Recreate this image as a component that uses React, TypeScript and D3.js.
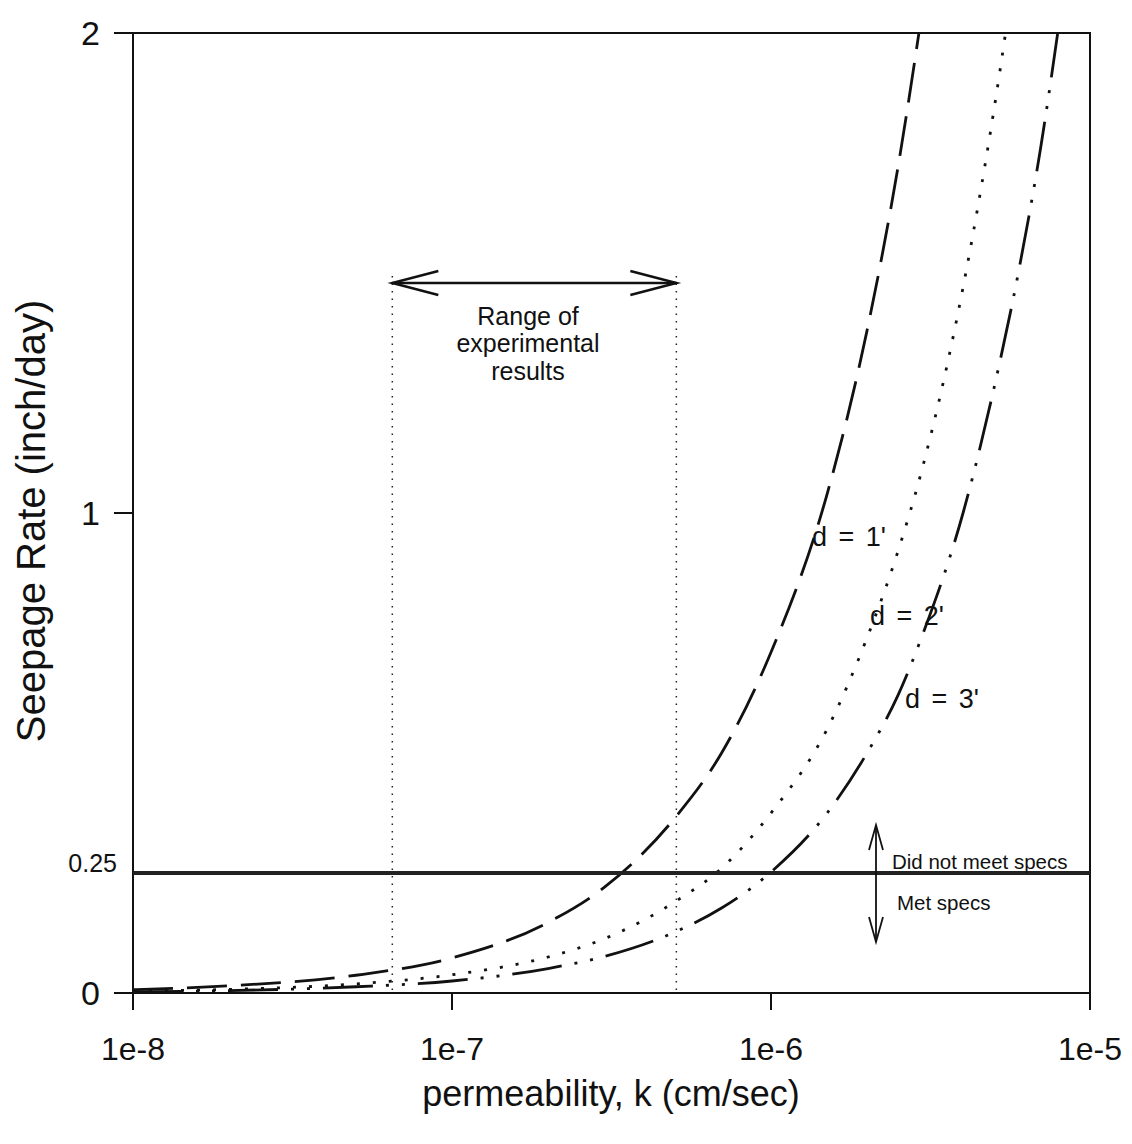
import React from "react";
import * as d3 from "d3";

// permeability values (cm/sec) at which the curves were read
const kValues = [1e-8, 2e-8, 5e-8, 1e-7, 2e-7, 3e-7, 5e-7, 7e-7, 1e-6, 1.5e-6, 2e-6, 2.5e-6, 3e-6, 4e-6, 5e-6, 6e-6, 7e-6, 8e-6];

// seepage rate (inch/day) for each depth
const d1Values = [0.007, 0.015, 0.037, 0.073, 0.147, 0.22, 0.365, 0.5, 0.71, 1.04, 1.38, 1.72, 2.06];
const d2Values = [0.004, 0.0075, 0.019, 0.038, 0.075, 0.113, 0.19, 0.26, 0.375, 0.55, 0.74, 0.92, 1.1, 1.47, 1.84, 2.2];
const d3Values = [0.0025, 0.005, 0.013, 0.025, 0.051, 0.076, 0.127, 0.177, 0.252, 0.375, 0.5, 0.62, 0.75, 1.0, 1.26, 1.51, 1.76, 2.02];

const xTicks = [1e-8, 1e-7, 1e-6, 1e-5];
const xTickLabels = ["1e-8", "1e-7", "1e-6", "1e-5"];
const yTicks = [0, 1, 2];
const specLimit = 0.25;
const rangeLow = 6.5e-8;
const rangeHigh = 5.05e-7;

const W = 1132;
const H = 1144;
const left = 133;
const right = 1090;
const top = 33;
const bottom = 993;
const font = "'Liberation Sans', Arial, sans-serif";

type Pt = { k: number; v: number };

const toPts = (vals: number[]): Pt[] => vals.map((v, i) => ({ k: kValues[i], v }));

const App = () => {
  const x = d3.scaleLog().domain([1e-8, 1e-5]).range([left, right]);
  const y = d3.scaleLinear().domain([0, 2]).range([bottom, top]);

  const line = d3
    .line<Pt>()
    .x((d) => x(d.k))
    .y((d) => y(d.v))
    .curve(d3.curveMonotoneX);

  const curves = [
    { pts: toPts(d1Values), dash: "40 14" },
    { pts: toPts(d2Values), dash: "3 13" },
    { pts: toPts(d3Values), dash: "50 13 3 13 3 13" },
  ];

  const xl = x(rangeLow);
  const xh = x(rangeHigh);
  const ay = 283;
  const sx = 876;
  const sy = y(specLimit);

  return (
    <svg width={W} height={H} style={{ position: "absolute", left: 0, top: 0, background: "#fff" }}>
      <defs>
        <clipPath id="plot">
          <rect x={left} y={top} width={right - left} height={bottom - top} />
        </clipPath>
      </defs>

      {/* frame */}
      <rect x={left} y={top} width={right - left} height={bottom - top} fill="none" stroke="#111" strokeWidth={2} />

      {/* y ticks */}
      {yTicks.map((t) => (
        <g key={t}>
          <line x1={left - 19} x2={left} y1={y(t)} y2={y(t)} stroke="#111" strokeWidth={2} />
          <text x={100} y={y(t)} dy="0.36em" textAnchor="end" fontSize={34} fontFamily={font} fill="#111">
            {t}
          </text>
        </g>
      ))}
      <text x={117} y={y(specLimit) - 1} textAnchor="end" fontSize={25} fontFamily={font} fill="#111">
        0.25
      </text>

      {/* x ticks */}
      {xTicks.map((t, i) => (
        <g key={t}>
          <line x1={x(t)} x2={x(t)} y1={bottom} y2={bottom + 17} stroke="#111" strokeWidth={2} />
          <text x={x(t)} y={1060} textAnchor="middle" fontSize={32} fontFamily={font} fill="#111">
            {xTickLabels[i]}
          </text>
        </g>
      ))}

      {/* axis titles */}
      <text x={611} y={1106} textAnchor="middle" fontSize={36} fontFamily={font} fill="#111">
        permeability, k (cm/sec)
      </text>
      <text
        transform={`translate(45, 521) rotate(-90)`}
        textAnchor="middle"
        fontSize={40}
        fontFamily={font}
        fill="#111"
      >
        Seepage Rate (inch/day)
      </text>

      {/* range of experimental results */}
      <line x1={xl} x2={xl} y1={276} y2={bottom} stroke="#222" strokeWidth={1.5} strokeDasharray="1.5 6" />
      <line x1={xh} x2={xh} y1={276} y2={bottom} stroke="#222" strokeWidth={1.5} strokeDasharray="1.5 6" />
      <line x1={xl} x2={xh} y1={ay} y2={ay} stroke="#111" strokeWidth={2.5} />
      <polyline points={`${xl + 46},${ay - 12} ${xl},${ay} ${xl + 46},${ay + 12}`} fill="none" stroke="#111" strokeWidth={2.5} />
      <polyline points={`${xh - 46},${ay - 12} ${xh},${ay} ${xh - 46},${ay + 12}`} fill="none" stroke="#111" strokeWidth={2.5} />
      <g fontSize={25} fontFamily={font} fill="#111" textAnchor="middle">
        <text x={528} y={325}>Range of</text>
        <text x={528} y={352}>experimental</text>
        <text x={528} y={380}>results</text>
      </g>

      {/* seepage curves */}
      <g clipPath="url(#plot)">
        {curves.map((c, i) => (
          <path key={i} d={line(c.pts) || ""} fill="none" stroke="#111" strokeWidth={2.8} strokeDasharray={c.dash} />
        ))}
      </g>

      {/* spec limit */}
      <line x1={left} x2={right} y1={sy} y2={sy} stroke="#222" strokeWidth={4} />
      <line x1={sx} x2={sx} y1={825} y2={942} stroke="#111" strokeWidth={1.8} />
      <polyline points={`${sx - 7},${850} ${sx},${825} ${sx + 7},${850}`} fill="none" stroke="#111" strokeWidth={1.8} />
      <polyline points={`${sx - 7},${917} ${sx},${942} ${sx + 7},${917}`} fill="none" stroke="#111" strokeWidth={1.8} />
      <text x={892} y={869} fontSize={20.5} fontFamily={font} fill="#111">
        Did not meet specs
      </text>
      <text x={897} y={910} fontSize={20.5} fontFamily={font} fill="#111">
        Met specs
      </text>

      {/* curve labels */}
      <g fontSize={27} fontFamily={font} fill="#111" wordSpacing={4}>
        <text x={812} y={546}>d = 1'</text>
        <text x={870} y={625}>d = 2'</text>
        <text x={905} y={708}>d = 3'</text>
      </g>
    </svg>
  );
};

export default App;
